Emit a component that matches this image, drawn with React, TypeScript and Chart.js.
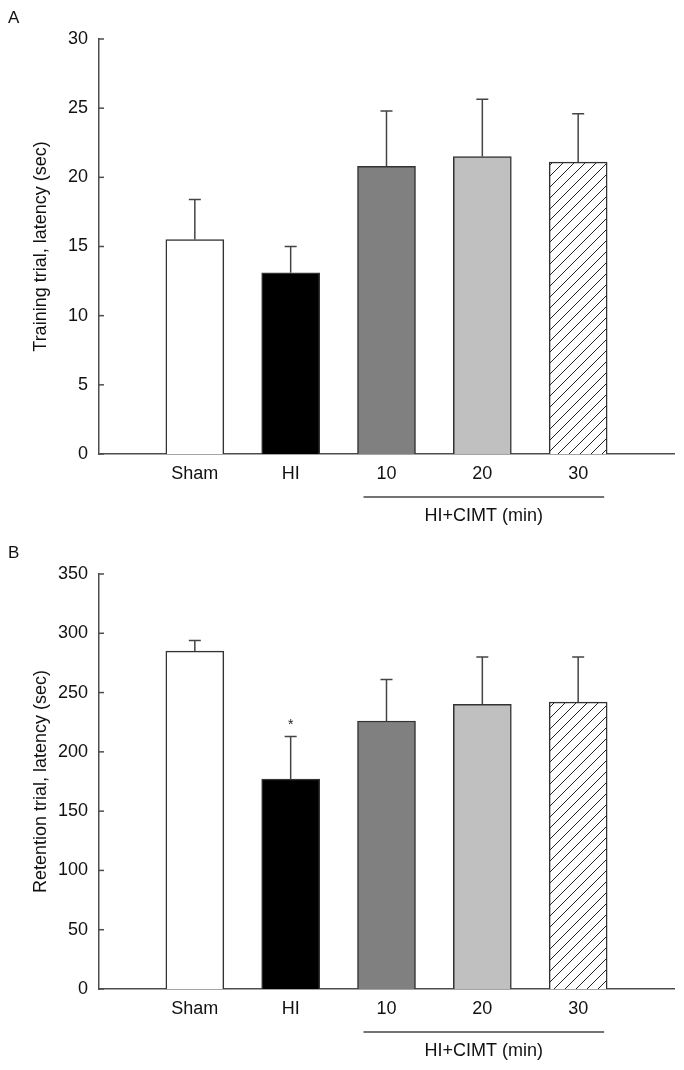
import React, { useEffect, useRef } from 'react';
import { Chart, registerables } from 'chart.js';

Chart.register(...registerables);

// ---- data ----
const groups = ['Sham', 'HI', '10', '20', '30'];
const groupPositions = [1, 2, 3, 4, 5];
const barColors = ['#ffffff', '#000000', '#808080', '#c0c0c0', 'hatch'];

const trainingMeans = [15.5, 13.1, 20.8, 21.5, 21.1];
const trainingSems = [2.9, 1.9, 4.0, 4.15, 3.5];
const trainingMarks = ['', '', '', '', ''];
const trainingAxis = { min: 0, max: 30, step: 5 };

const retentionMeans = [285, 177, 226, 240, 242];
const retentionSems = [9, 36, 35, 40, 38];
const retentionMarks = ['', '*', '', '', ''];
const retentionAxis = { min: 0, max: 350, step: 50 };

const bracketLabel = 'HI+CIMT (min)';
const bracketFrom = 3;
const bracketTo = 5;

const FONT = '"Liberation Sans", Arial, Helvetica, sans-serif';

type PanelProps = {
  letter: string;
  yTitle: string;
  means: number[];
  sems: number[];
  marks: string[];
  axis: { min: number; max: number; step: number };
  top: number;
  height: number;
  padTop: number;
};

function makeHatch(): CanvasPattern | string {
  const s = 11;
  const c = document.createElement('canvas');
  c.width = s;
  c.height = s;
  const g = c.getContext('2d');
  if (!g) return '#ffffff';
  g.fillStyle = '#ffffff';
  g.fillRect(0, 0, s, s);
  g.strokeStyle = '#222222';
  g.lineWidth = 1;
  g.beginPath();
  g.moveTo(0, s);
  g.lineTo(s, 0);
  g.moveTo(-2, 2);
  g.lineTo(2, -2);
  g.moveTo(s - 2, s + 2);
  g.lineTo(s + 2, s - 2);
  g.stroke();
  return g.createPattern(c, 'repeat') || '#ffffff';
}

function Panel(props: PanelProps) {
  const ref = useRef<HTMLCanvasElement | null>(null);
  useEffect(() => {
    const canvas = ref.current;
    if (!canvas) return;
    const hatch = makeHatch();
    const colors = barColors.map((c) => (c === 'hatch' ? hatch : c));

    const annot = {
      id: 'annot',
      afterDatasetsDraw(chart: any) {
        const { ctx, scales } = chart;
        const x = scales.x;
        const y = scales.y;
        ctx.save();
        ctx.strokeStyle = '#444444';
        ctx.lineWidth = 1.5;
        props.means.forEach((m, i) => {
          const px = x.getPixelForValue(groupPositions[i]);
          const yTop = y.getPixelForValue(m);
          const yErr = y.getPixelForValue(m + props.sems[i]);
          ctx.beginPath();
          ctx.moveTo(px, yTop);
          ctx.lineTo(px, yErr);
          ctx.moveTo(px - 6, yErr);
          ctx.lineTo(px + 6, yErr);
          ctx.stroke();
          if (props.marks[i]) {
            ctx.fillStyle = '#222222';
            ctx.font = `14px ${FONT}`;
            ctx.textAlign = 'center';
            ctx.textBaseline = 'alphabetic';
            ctx.fillText(props.marks[i], px, yErr - 7);
          }
        });
        ctx.restore();
      },
      afterDraw(chart: any) {
        const { ctx, scales, chartArea } = chart;
        const x = scales.x;
        const y = scales.y;
        ctx.save();
        // inward ticks
        ctx.strokeStyle = '#4d4d4d';
        ctx.lineWidth = 1.5;
        y.ticks.forEach((t: any) => {
          const py = y.getPixelForValue(t.value);
          ctx.beginPath();
          ctx.moveTo(chartArea.left, py);
          ctx.lineTo(chartArea.left + 5, py);
          ctx.stroke();
        });
        // panel letter
        ctx.fillStyle = '#111111';
        ctx.font = `17px ${FONT}`;
        ctx.textAlign = 'left';
        ctx.textBaseline = 'alphabetic';
        ctx.fillText(props.letter, 8, props.padTop - 16);
        // bracket
        const x1 = x.getPixelForValue(bracketFrom) - 23;
        const x2 = x.getPixelForValue(bracketTo) + 26;
        const by = chartArea.bottom + 43;
        ctx.strokeStyle = '#444444';
        ctx.lineWidth = 1.5;
        ctx.beginPath();
        ctx.moveTo(x1, by);
        ctx.lineTo(x2, by);
        ctx.stroke();
        ctx.fillStyle = '#111111';
        ctx.font = `18px ${FONT}`;
        ctx.textAlign = 'center';
        ctx.textBaseline = 'middle';
        ctx.fillText(bracketLabel, (x1 + x2) / 2, chartArea.bottom + 62);
        ctx.restore();
      },
    };

    const chart = new Chart(canvas, {
      type: 'bar',
      data: {
        datasets: [
          {
            data: props.means.map((m, i) => ({ x: groupPositions[i], y: m })),
            backgroundColor: colors as any,
            borderColor: '#333333',
            borderWidth: 1.5,
            barThickness: 58,
          },
        ],
      },
      options: {
        responsive: false,
        animation: false,
        devicePixelRatio: 1,
        layout: { padding: { top: props.padTop, right: 10, left: 0, bottom: 0 } },
        plugins: { legend: { display: false }, tooltip: { enabled: false } },
        scales: {
          x: {
            type: 'linear',
            min: 0,
            max: 6,
            offset: false,
            grid: { display: false, drawTicks: false, offset: false },
            border: { display: true, color: '#4d4d4d', width: 1.5 },
            ticks: {
              stepSize: 1,
              autoSkip: false,
              maxRotation: 0,
              padding: 9,
              color: '#111111',
              font: { size: 18, family: FONT },
              callback: (v: any) => {
                const idx = groupPositions.indexOf(Number(v));
                return idx >= 0 ? groups[idx] : '';
              },
            },
            afterFit: (s: any) => {
              s.height = 81;
            },
          },
          y: {
            min: props.axis.min,
            max: props.axis.max,
            grid: { display: false, drawTicks: false },
            border: { display: true, color: '#4d4d4d', width: 1.5 },
            ticks: {
              stepSize: props.axis.step,
              padding: 11,
              color: '#111111',
              font: { size: 18, family: FONT },
            },
            title: {
              display: true,
              text: props.yTitle,
              color: '#111111',
              font: { size: 18, family: FONT },
              padding: { top: 30, bottom: 0 },
            },
            afterFit: (s: any) => {
              s.width = 99;
            },
          },
        },
      },
      plugins: [annot],
    } as any);
    return () => chart.destroy();
  }, []);
  return (
    <canvas
      ref={ref}
      width={684}
      height={props.height}
      style={{ position: 'absolute', left: 0, top: props.top, width: 684, height: props.height, display: 'block' }}
    />
  );
}

export default function App() {
  return (
    <div style={{ position: 'relative', width: 684, height: 1070 }}>
      <div style={{ position: 'absolute', left: -8, top: -8, width: 684, height: 1070, background: '#ffffff' }}>
        <Panel
          letter="A"
          yTitle="Training trial, latency (sec)"
          means={trainingMeans}
          sems={trainingSems}
          marks={trainingMarks}
          axis={trainingAxis}
          top={0}
          height={535}
          padTop={39}
        />
        <Panel
          letter="B"
          yTitle="Retention trial, latency (sec)"
          means={retentionMeans}
          sems={retentionSems}
          marks={retentionMarks}
          axis={retentionAxis}
          top={520}
          height={550}
          padTop={54}
        />
      </div>
    </div>
  );
}
